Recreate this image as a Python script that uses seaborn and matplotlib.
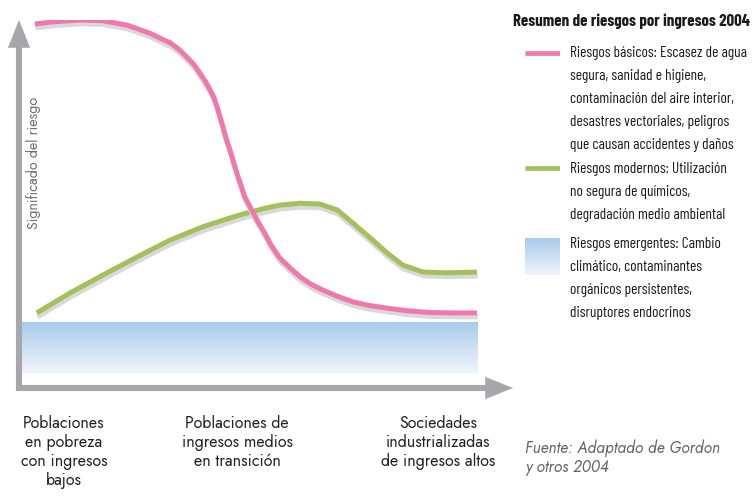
import numpy as np
import matplotlib
matplotlib.use("Agg")
import matplotlib.pyplot as plt
import matplotlib.patheffects as pe
from matplotlib import font_manager as fm
from matplotlib.colors import LinearSegmentedColormap
import seaborn as sns

# Curves (income level 0-100, risk significance 0-100)
basic_x = [3.2, 6.9, 12.4, 17.0, 21.9, 26.5, 28.5, 30.6, 32.4, 34.0, 35.4, 36.6, 37.7,
           38.7, 39.5, 40.1, 40.7, 41.3, 41.9, 42.7, 43.4, 44.1, 44.9, 45.7, 46.6, 47.4,
           48.4, 49.4, 51.0, 52.8, 54.9, 56.9, 59.0, 61.5, 64.5, 67.6, 71.0, 74.5, 78.5,
           83.2, 88.0, 92.7]
basic_y = [98.9, 99.5, 100.0, 99.8, 98.6, 96.4, 95.1, 93.8, 92.0, 89.9, 87.9, 85.6, 83.4,
           81.0, 78.8, 76.4, 73.6, 70.9, 67.9, 64.7, 61.5, 58.4, 55.2, 51.9, 49.7, 47.6,
           45.1, 42.9, 38.9, 35.3, 32.6, 30.2, 28.3, 26.6, 24.9, 23.4, 22.4, 21.7, 21.0,
           20.5, 20.4, 20.4]

modern_x = [3.6, 10.3, 17.0, 23.9, 30.6, 37.2, 42.0, 46.2, 50.0, 52.8, 56.9, 60.9, 64.4,
            67.6, 71.1, 74.5, 77.7, 81.8, 86.6, 92.7]
modern_y = [20.4, 25.8, 30.7, 35.6, 40.2, 43.8, 45.9, 47.6, 48.9, 49.7, 50.2, 50.0, 48.4,
            44.8, 40.8, 36.7, 33.4, 31.5, 31.3, 31.5]

# Emerging risks band
emerging_x = [0.6, 92.9]
emerging_y = [4.1, 17.7]

categories = ["Poblaciones\nen pobreza\ncon ingresos\nbajos",
              "Poblaciones de\ningresos medios\nen transición",
              "Sociedades\nindustrializadas\nde ingresos altos"]

legend_title = "Resumen de riesgos por ingresos 2004"
legend_labels = ["Riesgos básicos: Escasez de agua\nsegura, sanidad e higiene,\ncontaminación del aire interior,\ndesastres vectoriales, peligros\nque causan accidentes y daños",
                 "Riesgos modernos: Utilización\nno segura de químicos,\ndegradación medio ambiental",
                 "Riesgos emergentes: Cambio\nclimático, contaminantes\norgánicos persistentes,\ndisruptores endocrinos"]
source = "Fuente: Adaptado de Gordon\ny otros 2004"

PINK = "#ef78ad"
GREEN = "#a3c05b"
AXIS_GRAY = "#a7a7ab"
SHADOW = "#d9d9d9"


def pick(cands):
    have = {f.name for f in fm.fontManager.ttflist}
    for c in cands:
        if c in have:
            return c
    return "DejaVu Sans"


geo = pick(["Jost", "Futura", "Century Gothic", "Questrial", "Didact Gothic", "Lato"])
narrow = pick(["Futura Condensed", "Barlow Condensed", "Encode Sans Condensed",
               "Barlow Semi Condensed", "Roboto Condensed", "Archivo Narrow",
               "PT Sans Narrow", "Asap Condensed", "Roboto"])

sns.set_style("white")
plt.rcParams["font.family"] = [geo, "DejaVu Sans"]

W, H = 753, 496
fig = plt.figure(figsize=(W / 100, H / 100), dpi=100)
renderer = fig.canvas.get_renderer()


def fit(t, target_px, along="width"):
    # scale a text so it spans target_px
    for _ in range(3):
        bb = t.get_window_extent(renderer)
        size = bb.width if along == "width" else bb.height
        t.set_fontsize(t.get_fontsize() * target_px / size)


def px_text(x, y, s, **kw):
    return fig.text(x / W, 1 - y / H, s, **kw)


ax = fig.add_axes([19 / W, (H - 388) / H, 494 / W, 368 / H])
ax.axis("off")

# gradient band for emerging risks
band_cmap = LinearSegmentedColormap.from_list("band", ["#f0f5fc", "#a9cbeb"])
grad = np.linspace(0, 1, 100).reshape(-1, 1)
ax.imshow(grad, extent=[emerging_x[0], emerging_x[1], emerging_y[0], emerging_y[1]],
          origin="lower", aspect="auto", cmap=band_cmap, zorder=1)

shadow = [pe.SimpleLineShadow(offset=(0.6, -2.8), shadow_color=SHADOW, alpha=1), pe.Normal()]
sns.lineplot(x=modern_x, y=modern_y, sort=False, color=GREEN, lw=3.6, ax=ax,
             solid_capstyle="butt", solid_joinstyle="round", path_effects=shadow, zorder=3)
sns.lineplot(x=basic_x, y=basic_y, sort=False, color=PINK, lw=3.6, ax=ax,
             solid_capstyle="butt", solid_joinstyle="round", path_effects=shadow, zorder=4)
ax.set_xlim(0, 100)
ax.set_ylim(0, 100)

# axis arrows
arrow = dict(arrowstyle="simple,head_length=1.0,head_width=0.8,tail_width=0.22", lw=0,
             color=AXIS_GRAY, shrinkA=0, shrinkB=0, mutation_scale=20)
ax.annotate("", xy=(0, 1.0), xytext=(0, -0.008), xycoords="axes fraction", arrowprops=arrow,
            annotation_clip=False)
ax.annotate("", xy=(1.0, 0), xytext=(-0.006, 0), xycoords="axes fraction", arrowprops=arrow,
            annotation_clip=False)

yl = px_text(34, 163, "Significado del riesgo", rotation=90, ha="center", va="center",
             fontsize=10, color="#707070", fontweight="light")
fit(yl, 133, along="height")

# x category labels, one text per line
cat_px = [64, 237, 438]
cat_texts = []
for cx, lab in zip(cat_px, categories):
    for i, line in enumerate(lab.split("\n")):
        cat_texts.append(px_text(cx, 428 + 19 * i, line, ha="center", va="baseline",
                                 fontsize=11, color="#222222"))
ref = [t for t in cat_texts if t.get_text() == "ingresos medios"][0]
fit(ref, 111)
for t in cat_texts:
    t.set_fontsize(ref.get_fontsize())

for i, line in enumerate(source.split("\n")):
    t = px_text(525, 453 + 19 * i, line, ha="left", va="baseline", fontsize=11,
                style="italic", color="#666666")
    if i == 0:
        fit(t, 195)
        src_fs = t.get_fontsize()
    else:
        t.set_fontsize(src_fs)

# legend
tt = px_text(513, 26, legend_title, ha="left", va="baseline", fontsize=11,
             fontweight="bold", family=narrow, color="#1a1a1a")
fit(tt, 237)

sw = fig.add_axes([525 / W, 0, 35 / W, 1])
sw.axis("off")
sw.plot([0, 1], [53, 53], color=PINK, lw=3.4, solid_capstyle="butt")
sw.plot([0, 1], [168, 168], color=GREEN, lw=3.4, solid_capstyle="butt")
sw.imshow(grad, extent=[0, 1, 275, 238], origin="lower", aspect="auto", cmap=band_cmap)
sw.set_xlim(0, 1)
sw.set_ylim(H, 0)

first_lines = [52, 168, 243]
body = []
for y0, lab in zip(first_lines, legend_labels):
    for i, line in enumerate(lab.split("\n")):
        body.append(px_text(570, y0 + 5 + 23 * i, line, ha="left", va="baseline",
                            fontsize=11, family=narrow, color="#1a1a1a"))
fit(body[0], 177)
for t in body[1:]:
    t.set_fontsize(body[0].get_fontsize())

fig.savefig("out.png", dpi=100)
